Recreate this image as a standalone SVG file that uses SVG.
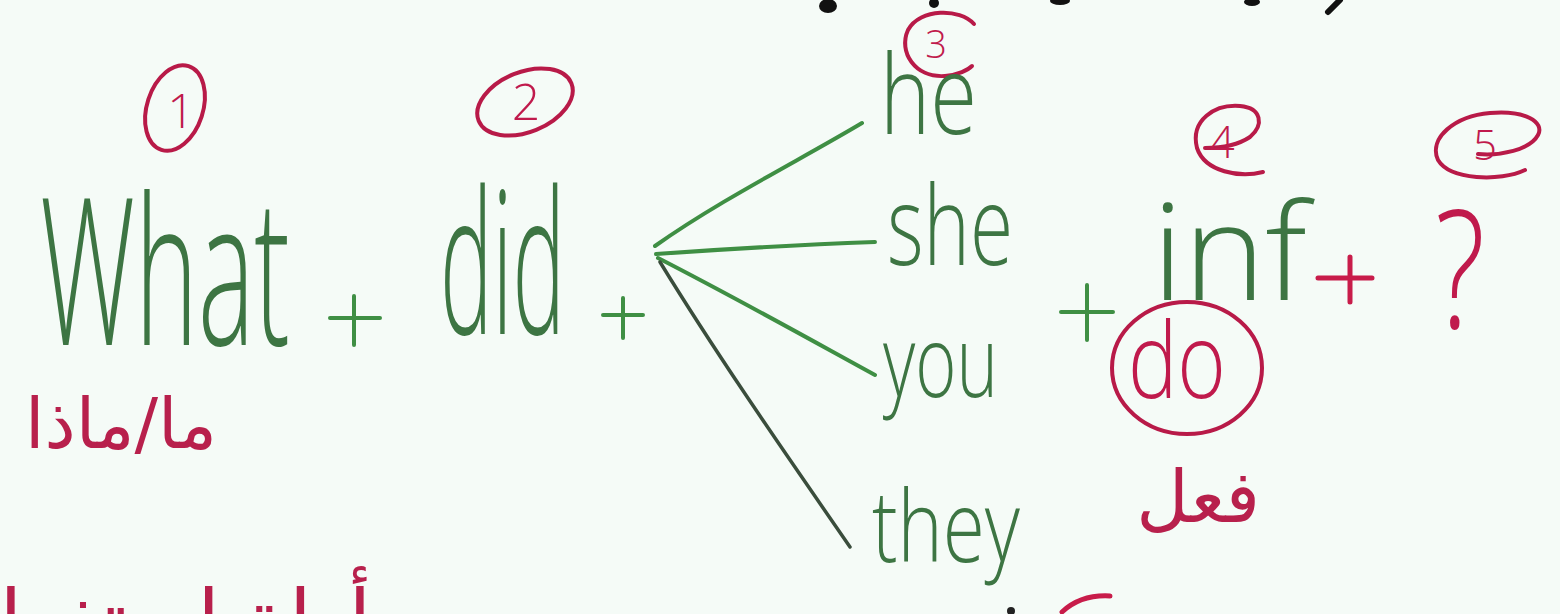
<svg xmlns="http://www.w3.org/2000/svg" width="1560" height="614" viewBox="0 0 1560 614">
<style>
.g{fill:#3d7543;font-family:"Open Sans","DejaVu Sans",sans-serif;font-weight:300}
.r{fill:#c01a4c;font-family:"Open Sans","DejaVu Sans",sans-serif;font-weight:300}
.ar{fill:#b8204c;font-family:"DejaVu Sans","Noto Sans",sans-serif}
.ring{fill:none;stroke:#b81a48;stroke-width:4;stroke-linecap:round}
.gl{stroke:#3f8f44;stroke-width:4;stroke-linecap:round;fill:none}
.dl{stroke:#3a4d3c;stroke-width:3.5;stroke-linecap:round;fill:none}
.rl{stroke:#c81c4a;stroke-width:5;stroke-linecap:round;fill:none}
.bk{fill:#111}
</style>
<rect width="1560" height="614" fill="#f5fbf7"/>
<g id="top-fragments">
<ellipse class="bk" cx="828" cy="6" rx="9" ry="7"/>
<ellipse class="bk" cx="934" cy="3" rx="5" ry="5"/>
<ellipse class="bk" cx="1060" cy="1" rx="10" ry="4"/>
<ellipse class="bk" cx="1252" cy="2" rx="8" ry="4"/>
<path d="M1340 0 L1328 12" stroke="#111" stroke-width="6" stroke-linecap="round"/>
</g>
<g id="n1">
<ellipse class="ring" cx="175" cy="108" rx="28" ry="44" transform="rotate(18 175 108)"/>
<text class="r" x="181" y="128" font-size="48" font-weight="400" text-anchor="middle" fill="#3a2030">1</text>
</g>
<g id="n2">
<ellipse class="ring" cx="525" cy="102" rx="50" ry="30" transform="rotate(-22 525 102)"/>
<text class="r" x="526" y="120" font-size="50" font-weight="400" text-anchor="middle">2</text>
</g>
<g id="n3">
<path class="ring" d="M974 24 C960 8 920 8 908 30 C898 52 915 78 945 76 C958 75 968 70 972 66"/>
<text class="r" x="936" y="58" font-size="38" font-weight="400" text-anchor="middle">3</text>
</g>
<g id="n4">
<path class="ring" d="M1263 172 C1240 178 1205 172 1197 148 C1190 120 1215 104 1240 106 C1262 108 1264 125 1250 137 C1238 145 1220 148 1205 148"/>
<text class="r" x="1222" y="158" font-size="44" font-weight="400" text-anchor="middle">4</text>
</g>
<g id="n5">
<path class="ring" d="M1525 170 C1500 182 1450 180 1438 160 C1428 138 1455 116 1490 113 C1525 110 1545 122 1538 135 C1530 150 1500 156 1478 154"/>
<text class="r" x="1485" y="160" font-size="42" font-weight="400" text-anchor="middle">5</text>
</g>
<g id="what">
<text class="g" x="40" y="345" font-size="205" textLength="250" lengthAdjust="spacingAndGlyphs">What</text>
</g>
<g id="plus1">
<path class="gl" d="M330 318 H380 M354 296 V345" stroke="#2f5a35"/>
</g>
<g id="did">
<text class="g" x="440" y="334" font-size="200" textLength="125" lengthAdjust="spacingAndGlyphs">did</text>
</g>
<g id="plus2">
<path class="gl" d="M603 315 H643 M623 298 V338" stroke="#2f5a35"/>
</g>
<g id="connectors">
<path class="gl" d="M655 246 C720 200 800 160 862 123"/>
<path class="gl" d="M656 254 C740 248 820 244 875 242"/>
<path class="gl" d="M658 258 C740 300 820 345 875 375"/>
<path class="dl" d="M660 262 C720 360 790 460 850 547"/>
</g>
<g id="he">
<text class="g" x="880" y="134" font-size="110" textLength="97" lengthAdjust="spacingAndGlyphs">he</text>
</g>
<g id="she">
<text class="g" x="887" y="265" font-size="110" textLength="126" lengthAdjust="spacingAndGlyphs">she</text>
</g>
<g id="you">
<text class="g" x="883" y="397" font-size="100" textLength="115" lengthAdjust="spacingAndGlyphs">you</text>
</g>
<g id="they">
<text class="g" x="872" y="562" font-size="100" textLength="148" lengthAdjust="spacingAndGlyphs">they</text>
</g>
<g id="plus3">
<path class="gl" d="M1061 312 H1113 M1087 285 V340" stroke="#2f5a35"/>
</g>
<g id="inf">
<text class="g" x="1152" y="300" font-size="135" textLength="155" lengthAdjust="spacingAndGlyphs">inf</text>
</g>
<g id="plus4">
<path class="rl" d="M1318 278 H1372 M1350 257 V302"/>
</g>
<g id="question">
<text class="r" x="1435" y="328" font-size="165" textLength="50" lengthAdjust="spacingAndGlyphs">?</text>
</g>
<g id="do">
<ellipse class="ring" cx="1187" cy="368" rx="75" ry="66"/>
<text class="r" x="1128" y="398" font-size="105" textLength="98" lengthAdjust="spacingAndGlyphs">do</text>
</g>
<g id="verb">
<text class="ar" x="1198" y="522" font-size="72" text-anchor="middle" direction="rtl">فعل</text>
</g>
<g id="maza">
<text class="ar" x="121" y="448" font-size="70" text-anchor="middle" direction="rtl">ما/ماذا</text>
</g>
<g id="bottom-fragments">
<text class="ar" x="160" y="648" font-size="82" text-anchor="middle" direction="rtl">أداة استفهام</text>
<path class="rl" d="M1062 612 C1075 600 1092 595 1110 596" stroke-width="5"/>
<circle cx="1011" cy="611" r="4" fill="#222"/>
</g>
</svg>
